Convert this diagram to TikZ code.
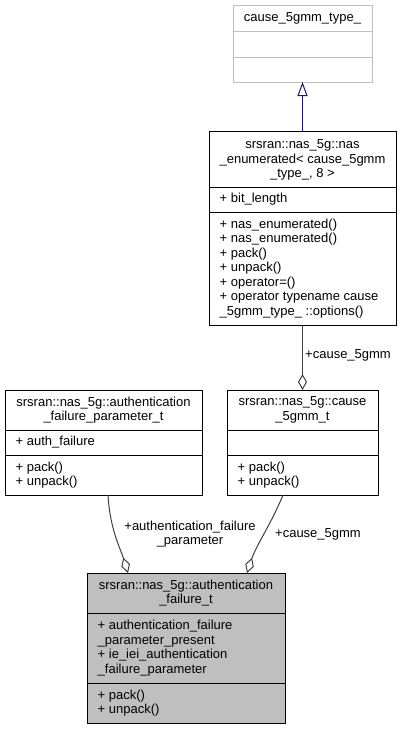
\documentclass[tikz,border=0pt]{standalone}
\usepackage{fontspec}
\setmainfont{Liberation Sans}
\usetikzlibrary{arrows.meta}
\definecolor{boxgray}{HTML}{BFBFBF}
\definecolor{edgegray}{HTML}{404040}
\definecolor{inhblue}{HTML}{191970}
\begin{document}
\begin{tikzpicture}[x=1pt,y=-1pt,
  font=\fontsize{13}{14.5}\selectfont,
  cls/.style={draw=black, line width=1pt, inner sep=0pt, outer sep=0pt, anchor=north west, rectangle},
  faded/.style={cls, draw=boxgray},
  hilite/.style={cls, fill=boxgray},
  sep/.style={line width=1pt},
  title/.style={align=center, inner sep=0pt},
  members/.style={align=left, anchor=west, inner sep=0pt},
  inherit/.style={draw=inhblue, line width=1pt, -{Triangle[open, length=14pt, width=10pt]}},
  compose/.style={draw=edgegray, line width=1pt, -{Diamond[open, length=16pt, width=9pt]}},
  lbl/.style={inner sep=0pt, align=center}]
\useasboundingbox (0,0) rectangle (401,729);

% cause_5gmm_type_
\node[faded, minimum width=139pt, minimum height=77pt] (b1) at (233,5) {};
\draw[sep, boxgray] (233,31) -- (372,31);
\draw[sep, boxgray] (233,57) -- (372,57);
\node[title] at (302.5,18) {cause\_5gmm\_type\_};

% nas_enumerated template instance
\node[cls, minimum width=187pt, minimum height=194pt] (b2) at (209,131) {};
\draw[sep] (209,187) -- (396,187);
\draw[sep] (209,212) -- (396,212);
\node[title] at (302.5,160) {srsran::nas\_5g::nas\\\_enumerated< cause\_5gmm\\\_type\_, 8 >};
\node[members] at (219.5,199.5) {+ bit\_length};
\node[members] at (219.5,268.5) {+ nas\_enumerated()\\+ nas\_enumerated()\\+ pack()\\+ unpack()\\+ operator=()\\+ operator typename cause\\\_5gmm\_type\_ ::options()};

% authentication_failure_parameter_t
\node[cls, minimum width=197pt, minimum height=105pt] (b3) at (5,390) {};
\draw[sep] (5,430) -- (202,430);
\draw[sep] (5,455) -- (202,455);
\node[title] at (103.5,410) {srsran::nas\_5g::authentication\\\_failure\_parameter\_t};
\node[members] at (15.5,442.5) {+ auth\_failure};
\node[members] at (15.5,475) {+ pack()\\+ unpack()};

% cause_5gmm_t
\node[cls, minimum width=151pt, minimum height=105pt] (b4) at (227,390) {};
\draw[sep] (227,430) -- (378,430);
\draw[sep] (227,455) -- (378,455);
\node[title] at (302.5,410) {srsran::nas\_5g::cause\\\_5gmm\_t};
\node[members] at (237.5,475) {+ pack()\\+ unpack()};

% authentication_failure_t
\node[hilite, minimum width=198pt, minimum height=150pt] (b5) at (87,573) {};
\draw[sep] (87,613) -- (285,613);
\draw[sep] (87,683) -- (285,683);
\node[title] at (186,593) {srsran::nas\_5g::authentication\\\_failure\_t};
\node[members] at (97.5,648) {+ authentication\_failure\\\_parameter\_present\\+ ie\_iei\_authentication\\\_failure\_parameter};
\node[members] at (97.5,703) {+ pack()\\+ unpack()};

% relations
\draw[inherit] (b2.north) -- (b1.south);
\draw[compose] (b2.south) -- (b4.north);
\node[lbl, anchor=west] at (305,355) {+cause\_5gmm};

\draw[compose] ([xshift=4.5pt]b3.south) .. controls (110,530) and (121,550) .. ([xshift=-58pt]b5.north);
\node[lbl] at (190,534) {+authentication\_failure\\\_parameter};

\draw[compose] ([xshift=-19.5pt]b4.south) .. controls (272,522) and (256,546) .. ([xshift=61pt]b5.north);
\node[lbl, anchor=west] at (275,534) {+cause\_5gmm};
\end{tikzpicture}
\end{document}
